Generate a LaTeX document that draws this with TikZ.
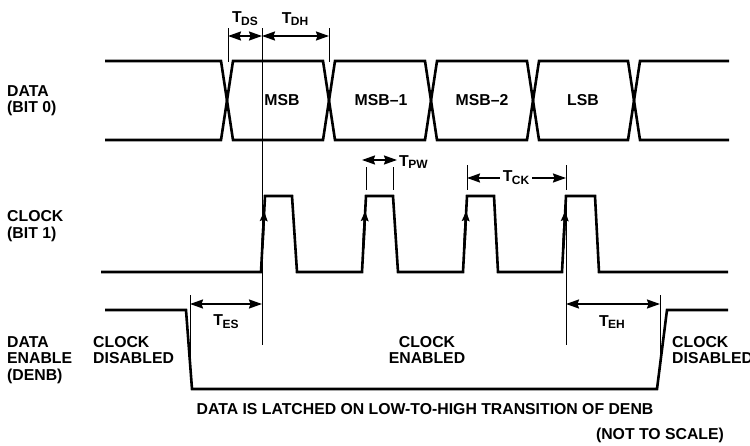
\documentclass[tikz,border=0pt]{standalone}
\usepackage{fontspec}
\setmainfont{Liberation Sans}
\usetikzlibrary{arrows.meta}
\newcommand{\Tsb}[1]{T\kern-0.6pt\raisebox{-2.8pt}{\fontsize{12}{12}\selectfont #1}}
\begin{document}
\begin{tikzpicture}[x=1pt,y=-1pt,
  wave/.style={line width=2.6pt,line join=miter,line cap=butt},
  dimline/.style={line width=0.9pt},
  dimarrow/.style={line width=1.8pt,{Stealth[length=13pt,width=9pt,inset=1.5pt]}-{Stealth[length=13pt,width=9pt,inset=1.5pt]}},
  uptip/.style={line width=2.6pt,-{Stealth[length=10pt,width=7.5pt,inset=1.5pt]}},
  lbl/.style={font=\fontsize{15.8}{16.3}\selectfont\bfseries,inner sep=0pt,align=left},
  lblc/.style={font=\fontsize{15.8}{16.3}\selectfont\bfseries,inner sep=0pt,align=center},
  tlbl/.style={font=\fontsize{15.8}{16.3}\selectfont\bfseries,inner sep=0pt}]
\useasboundingbox (0,0) rectangle (750,445);
\fill[white] (0,0) rectangle (750,445);

% ---------- DATA bus ----------
\draw[wave] (105,61) -- (221,61) -- (233,140) -- (323,140) -- (335,61) -- (425,61) -- (437,140)
  -- (527,140) -- (539,61) -- (628,61) -- (640,140) -- (729,140);
\draw[wave] (105,140) -- (221,140) -- (233,61) -- (323,61) -- (335,140) -- (425,140) -- (437,61)
  -- (527,61) -- (539,140) -- (628,140) -- (640,61) -- (729,61);

\node[tlbl] (msb)  at (282,100) {MSB};
\node[tlbl] (msb1) at (381,100) {MSB–1};
\node[tlbl] (msb2) at (482,100) {MSB–2};
\node[tlbl] (lsb)  at (583,100) {LSB};

% ---------- CLOCK ----------
\draw[wave] (101,272) -- (261,272) -- (265,196) -- (292,196) -- (297,272)
  -- (362,272) -- (366,196) -- (393,196) -- (398,272)
  -- (463,272) -- (467,196) -- (494,196) -- (498,272)
  -- (562,272) -- (566,196) -- (595,196) -- (599,272) -- (728,272);
\foreach \p in {261,362,463,562}{
  \draw[uptip] (\p+1.3,248) -- (\p+3.2,211);
}

% ---------- DENB ----------
\draw[wave] (105,310) -- (186,310) -- (192,389) -- (657,389) -- (667,310) -- (728,310);

% ---------- reference lines ----------
\coordinate (ds1) at (228,36);
\coordinate (ds2) at (262,36);
\coordinate (dh2) at (329,36);
\draw[dimline] (228,28) -- (228,62);
\draw[dimline] (262,28) -- (262,345);
\draw[dimline] (329,28) -- (329,62);
\draw[dimarrow] (ds1) -- (ds2);
\draw[dimarrow] (ds2) -- (dh2);
\node[tlbl] (tds) at (245,19) {\Tsb{DS}};
\node[tlbl] (tdh) at (295,19) {\Tsb{DH}};

% T_PW
\coordinate (pw1) at (362,160);
\coordinate (pw2) at (397,160);
\draw[dimline] (366,167) -- (366,190);
\draw[dimline] (393,167) -- (393,190);
\draw[dimarrow] (pw1) -- (pw2);
\node[tlbl,anchor=west] (tpw) at (399,162) {\Tsb{PW}};

% T_CK
\coordinate (ck1) at (467,178);
\coordinate (ck2) at (566,178);
\draw[dimline] (467,165) -- (467,190);
\draw[dimline] (566,165) -- (566,190);
\draw[dimarrow] (ck1) -- (ck2);
\node[tlbl,fill=white,inner xsep=3pt,inner ysep=1pt] (tck) at (516,178) {\Tsb{CK}};

% T_ES / T_EH
\draw[dimline] (566,200) -- (566,345);
\coordinate (es1) at (190,304);
\coordinate (es2) at (262,304);
\coordinate (eh1) at (566,304);
\coordinate (eh2) at (660,304);
\draw[dimline] (190,295) -- (190,362);
\draw[dimline] (660,295) -- (660,365);
\draw[dimarrow] (es1) -- (es2);
\draw[dimarrow] (eh1) -- (eh2);
\node[tlbl] (tes) at (226,322) {\Tsb{ES}};
\node[tlbl] (teh) at (612,322) {\Tsb{EH}};

% ---------- labels ----------
\node[lbl,anchor=west] (ldata) at (7,101) {DATA\\(BIT 0)};
\node[lbl,anchor=west] (lclk) at (7,226) {CLOCK\\(BIT 1)};
\node[lbl,anchor=west] (lden) at (7,360) {DATA\\ENABLE\\(DENB)};
\node[lbl,anchor=west] (cd1) at (93,350) {CLOCK\\DISABLED};
\node[lblc] (ce) at (427,350) {CLOCK\\ENABLED};
\node[lbl,anchor=west] (cd2) at (672,350) {CLOCK\\DISABLED};
\node[tlbl] (latch) at (425,409) {DATA IS LATCHED ON LOW-TO-HIGH TRANSITION OF DENB};
\node[tlbl] (nts) at (660,435) {(NOT TO SCALE)};
\end{tikzpicture}
\end{document}
